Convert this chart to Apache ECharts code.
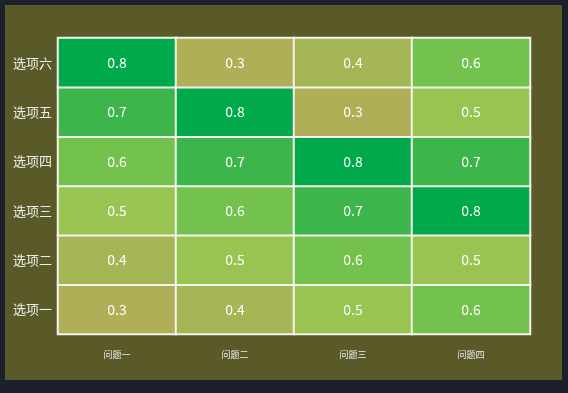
<!DOCTYPE html>
<html><head><meta charset="utf-8">
<script src="https://cdn.jsdelivr.net/npm/echarts@6/dist/echarts.min.js"></script>
<style>
html,body{margin:0;padding:0;background:#1b202a;width:568px;height:393px;overflow:hidden}
#c{position:absolute;left:5px;top:5px;width:557px;height:375px;background:#5a5a28}
</style></head><body>
<div id="c"></div>
<script>
const xCats = ['问题一','问题二','问题三','问题四'];
const yCats = ['选项一','选项二','选项三','选项四','选项五','选项六'];
const row1 = [0.3,0.4,0.5,0.6];
const row2 = [0.4,0.5,0.6,0.5];
const row3 = [0.5,0.6,0.7,0.8];
const row4 = [0.6,0.7,0.8,0.7];
const row5 = [0.7,0.8,0.3,0.5];
const row6 = [0.8,0.3,0.4,0.6];
const rows = [row1,row2,row3,row4,row5,row6];
const levels = [0.3,0.4,0.5,0.6,0.7,0.8];
const levelColors = ['#b1ae58','#a4b656','#99c452','#74c24e','#3cb54b','#00aa4b'];
const data = [];
rows.forEach((r,yi)=>r.forEach((v,xi)=>data.push([xi,yi,v])));
const chart = echarts.init(document.getElementById('c'));
chart.setOption({
  backgroundColor:'transparent',
  textStyle:{fontFamily:'"Noto Sans CJK SC", sans-serif'},
  grid:{left:53,right:32,top:33,bottom:46},
  xAxis:{type:'category',data:xCats,axisLine:{show:false},axisTick:{show:false},
    axisLabel:{color:'#eee',fontSize:9,margin:16},splitArea:{show:false}},
  yAxis:{type:'category',data:yCats,axisLine:{show:false},axisTick:{show:false},
    axisLabel:{color:'#eee',fontSize:13,margin:6},splitArea:{show:false}},
  visualMap:{type:'piecewise',show:false,dimension:2,
    pieces:levels.map((l,i)=>({min:l-0.05,max:l+0.05,color:levelColors[i]}))},
  series:[{type:'heatmap',data:data,
    label:{show:true,color:'#fff',fontSize:14},
    itemStyle:{borderColor:'#f4f4ee',borderWidth:2}}]
});
</script></body></html>
